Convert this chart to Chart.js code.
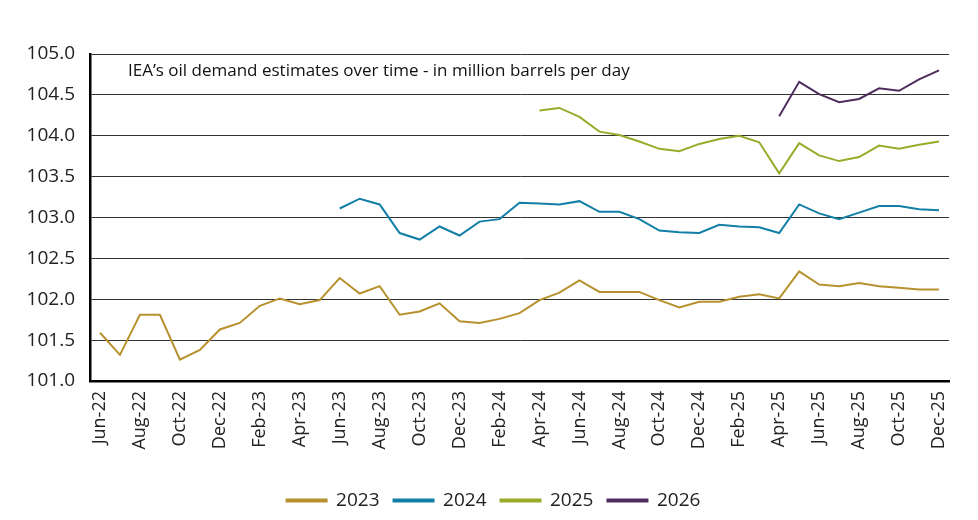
<!DOCTYPE html>
<html>
<head>
<meta charset="utf-8">
<script src="https://cdn.jsdelivr.net/npm/chart.js@4/dist/chart.umd.min.js"></script>
<style>
  html, body { margin: 0; padding: 0; background: #fff; }
  #wrap { width: 978px; height: 520px; }
</style>
</head>
<body>
<div id="wrap"><canvas id="c"></canvas></div>
<script>
// monthly categories, Jun-22 .. Dec-25
const months = [
  'Jun-22','Jul-22','Aug-22','Sep-22','Oct-22','Nov-22','Dec-22',
  'Jan-23','Feb-23','Mar-23','Apr-23','May-23','Jun-23','Jul-23','Aug-23','Sep-23','Oct-23','Nov-23','Dec-23',
  'Jan-24','Feb-24','Mar-24','Apr-24','May-24','Jun-24','Jul-24','Aug-24','Sep-24','Oct-24','Nov-24','Dec-24',
  'Jan-25','Feb-25','Mar-25','Apr-25','May-25','Jun-25','Jul-25','Aug-25','Sep-25','Oct-25','Nov-25','Dec-25'
]

// estimates for each forecast year (null = not yet published)
const est2023 = [101.59, 101.32, 101.81, 101.81, 101.26, 101.38, 101.63,
  101.71, 101.92, 102.01, 101.94, 101.99, 102.26, 102.07, 102.16, 101.81, 101.85, 101.95, 101.73,
  101.71, 101.76, 101.83, 101.99, 102.08, 102.23, 102.09, 102.09, 102.09, 101.99, 101.90, 101.97,
  101.97, 102.03, 102.06, 102.01, 102.34, 102.18, 102.16, 102.20, 102.16, 102.14, 102.12, 102.12]

const est2024 = [null, null, null, null, null, null, null,
  null, null, null, null, null, 103.11, 103.23, 103.16, 102.81, 102.73, 102.89, 102.78,
  102.95, 102.98, 103.18, 103.17, 103.16, 103.20, 103.07, 103.07, 102.98, 102.84, 102.82, 102.81,
  102.91, 102.89, 102.88, 102.81, 103.16, 103.05, 102.98, 103.06, 103.14, 103.14, 103.10, 103.09]

const est2025 = [null, null, null, null, null, null, null,
  null, null, null, null, null, null, null, null, null, null, null, null,
  null, null, null, 104.31, 104.34, 104.23, 104.05, 104.01, 103.93, 103.84, 103.81, 103.90,
  103.96, 104.00, 103.92, 103.54, 103.91, 103.76, 103.69, 103.74, 103.88, 103.84, 103.89, 103.93]

const est2026 = [null, null, null, null, null, null, null,
  null, null, null, null, null, null, null, null, null, null, null, null,
  null, null, null, null, null, null, null, null, null, null, null, null,
  null, null, null, 104.24, 104.66, 104.51, 104.41, 104.45, 104.58, 104.55, 104.69, 104.80]

const chartTitle = 'IEA\u2019s oil demand estimates over time - in million barrels per day'

const col2023 = '#B8912F'
const col2024 = '#127FA6'
const col2025 = '#9AAA2A'
const col2026 = '#4E2C5E'

const fontFam = '"Open Sans", "Noto Sans", sans-serif'

function series(label, data, color) {
  return {
    label: label,
    data: data,
    borderColor: color,
    backgroundColor: color,
    borderWidth: 2,
    pointRadius: 0,
    tension: 0,
    spanGaps: false
  }
}

// text inside the plot, top left
const innerTitle = {
  id: 'innerTitle',
  afterDraw(chart) {
    const ctx = chart.ctx
    const a = chart.chartArea
    ctx.save()
    ctx.font = '17px ' + fontFam
    ctx.fillStyle = '#111'
    ctx.textBaseline = 'middle'
    ctx.fillText(chartTitle, a.left + 38, a.top + 17)
    ctx.restore()
  }
}

new Chart(document.getElementById('c'), {
  type: 'line',
  data: {
    labels: months,
    datasets: [
      series('2023', est2023, col2023),
      series('2024', est2024, col2024),
      series('2025', est2025, col2025),
      series('2026', est2026, col2026)
    ]
  },
  plugins: [innerTitle],
  options: {
    responsive: true,
    maintainAspectRatio: false,
    animation: false,
    layout: { padding: { left: 9, right: 0, top: 54, bottom: 0 } },
    plugins: {
      legend: {
        position: 'bottom',
        labels: {
          boxWidth: 40,
          boxHeight: 2,
          padding: 14,
          color: '#222',
          font: { family: fontFam, size: 19 }
        }
      },
      tooltip: { enabled: false }
    },
    scales: {
      x: {
        offset: true,
        grid: { display: false, drawTicks: false },
        border: { display: true, color: '#000', width: 2.5 },
        ticks: {
          autoSkip: false,
          maxRotation: 90,
          minRotation: 90,
          padding: 10,
          color: '#222',
          font: { family: fontFam, size: 18 },
          callback: function (v, i) { return i % 2 === 0 ? months[i] : '' }
        },
        afterFit: function (s) { s.height = 96 }
      },
      y: {
        min: 101,
        max: 105,
        grid: { color: '#333', lineWidth: 1, drawTicks: false },
        border: { display: true, color: '#000', width: 2.5 },
        ticks: {
          stepSize: 0.5,
          padding: 15,
          color: '#222',
          font: { family: fontFam, size: 19 },
          callback: function (v) { return v.toFixed(1) }
        },
        afterFit: function (s) { s.width = 81 }
      },
      // empty right-hand margin
      yRight: {
        position: 'right',
        min: 101,
        max: 105,
        grid: { display: false, drawTicks: false },
        border: { display: false },
        ticks: { display: false },
        afterFit: function (s) { s.width = 29 }
      }
    }
  }
})
</script>
</body>
</html>
